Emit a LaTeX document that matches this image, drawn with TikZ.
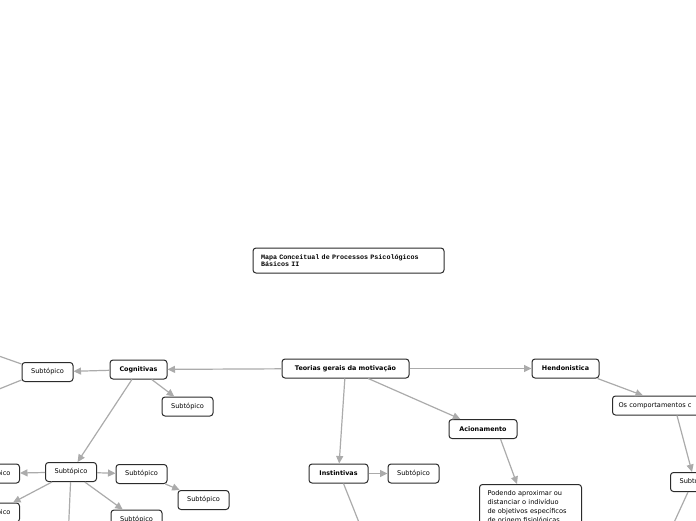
\documentclass[tikz,border=0pt]{standalone}
\usepackage{fontspec}
\newfontfamily\mapfont{DejaVu Sans}
\newfontfamily\monofont{Liberation Mono}
\usepackage{xcolor}
\definecolor{edge}{HTML}{2B2B2B}
\definecolor{link}{HTML}{ABABAB}
\usetikzlibrary{arrows.meta,positioning,calc}
\tikzset{
  >={Triangle[length=7.5pt,width=7pt]},
  box/.style={draw=edge,rounded corners=3pt,line width=1pt,fill=white,inner xsep=6pt,inner ysep=2pt,minimum height=19pt,font=\mapfont\fontsize{6.6}{8}\selectfont,align=center},
  sub/.style={box,minimum width=51pt},
  mbox/.style={box,font=\mapfont\bfseries\fontsize{6.4}{8}\selectfont},
  tbox/.style={box,font=\monofont\bfseries\fontsize{6.7}{7.5}\selectfont,align=left,text width=175pt,minimum height=25pt,inner xsep=8pt},
  lbox/.style={box,align=left,font=\mapfont\fontsize{6.6}{9}\selectfont,inner xsep=8pt,inner ysep=6pt},
  arr/.style={->,draw=link,line width=1.2pt},
  lin/.style={draw=link,line width=1.2pt},
}
\begin{document}
\begin{tikzpicture}[x=1pt,y=-1pt]
\useasboundingbox (0,0) rectangle (696,520);
\clip (0,0) rectangle (696,520);
% title
\node[tbox] (tit) at (348.5,260.5) {Mapa Conceitual de Processos Psicológicos\\Básicos II};
% main topics
\node[mbox,minimum width=127pt] (teo) at (345.5,368.5) {Teorias gerais da motivação};
\node[mbox,minimum width=57pt] (cog) at (138.5,369.5) {Cognitivas};
\node[mbox,minimum width=67pt] (hed) at (565.5,368.5) {Hendonistica};
\node[mbox,minimum width=68pt] (aci) at (483,429) {Acionamento};
\node[mbox,minimum width=59pt] (ins) at (338.5,473.5) {Instintivas};
\node[sub] (sins) at (413.5,473.5) {Subtópico};
\node[lbox,anchor=north west,text width=86pt] (pod) at (479,484) {Podendo aproximar ou\\distanciar o indivíduo\\de objetivos específicos\\de origem fisiológicas};
\node[box,anchor=west,text width=118pt,align=left] (osc) at (612,405.5) {Os comportamentos c};
\node[sub,anchor=west] (shed) at (670,482) {Subtópico};
% cognitivas branch
\node[sub] (sc1) at (47.5,372) {Subtópico};
\node[sub] (sc2) at (187.5,406.5) {Subtópico};
\node[sub] (sm) at (71,472) {Subtópico};
\node[sub] (sl) at (-6,473.5) {Subtópico};
\node[sub] (sr1) at (141.5,474) {Subtópico};
\node[sub] (sr2) at (203.5,500) {Subtópico};
\node[sub] (sbl) at (-6,512.5) {Subtópico};
\node[sub] (sbr) at (136.5,519.5) {Subtópico};
% free ends
\coordinate (o1) at (-38,343);
\coordinate (o2) at (-38,404);
\coordinate (o3) at (68,540);
\coordinate (o4) at (366,540);
\coordinate (o5) at (666,540);
% links
\draw[arr](teo)--(cog); \draw[arr](teo)--(hed); \draw[arr](teo)--(aci); \draw[arr](teo)--(ins);
\draw[arr](cog)--(sc1); \draw[arr](cog)--(sc2); \draw[arr](cog)--(sm);
\draw[lin]([yshift=-2pt]sc1.north west)--(o1); \draw[lin]([yshift=2pt]sc1.south west)--(o2);
\draw[arr](sm)--(sl); \draw[arr](sm)--(sr1); \draw[arr](sr1)--(sr2);
\draw[arr](sm)--(sbl); \draw[arr](sm)--(sbr); \draw[lin](sm)--(o3);
\draw[arr](ins)--(sins); \draw[lin]([xshift=5pt]ins.south)--(o4);
\draw[arr]([xshift=-17pt]aci.south east)--([xshift=38pt]pod.north west);
\draw[arr]([xshift=-2pt]hed.south east)--([xshift=31pt]osc.north west);
\draw[arr]([xshift=65pt]osc.south west)--([xshift=22pt]shed.north west);
\draw[lin]([xshift=18pt]shed.south west)--(o5);
\end{tikzpicture}
\end{document}
